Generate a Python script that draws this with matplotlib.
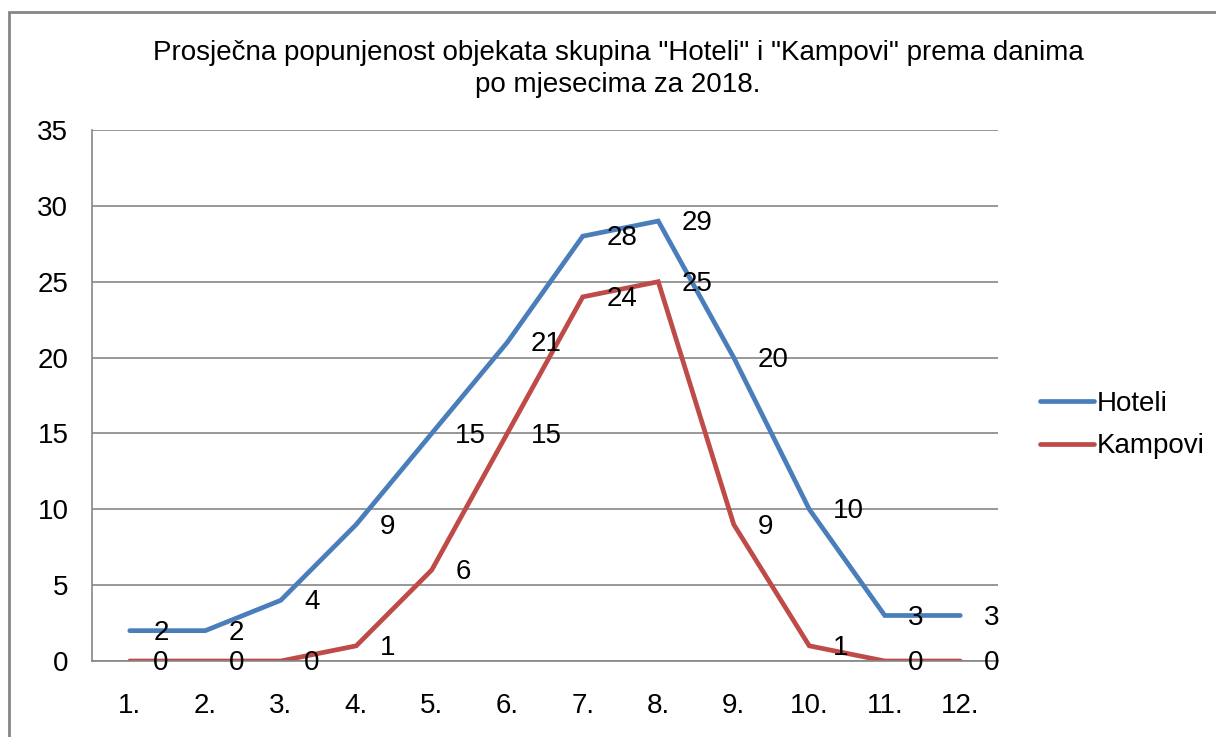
import matplotlib
matplotlib.use('Agg')
import matplotlib.pyplot as plt
from matplotlib.patches import Rectangle

# data
months = ['1.', '2.', '3.', '4.', '5.', '6.', '7.', '8.', '9.', '10.', '11.', '12.']
hoteli = [2, 2, 4, 9, 15, 21, 28, 29, 20, 10, 3, 3]
kampovi = [0, 0, 0, 1, 6, 15, 24, 25, 9, 1, 0, 0]
y_ticks = [0, 5, 10, 15, 20, 25, 30, 35]
title = 'Prosječna popunjenost objekata skupina "Hoteli" i "Kampovi" prema danima\npo mjesecima za 2018.'

plt.rcParams['font.family'] = ['Liberation Sans', 'DejaVu Sans']
fs = 20

fig = plt.figure(figsize=(12.16, 7.37), dpi=100)
ax = fig.add_axes([92 / 1216, 1 - 661 / 737, (998 - 92) / 1216, (661 - 130) / 737])

x = list(range(len(months)))
ax.plot(x, hoteli, color='#4A7EBB', lw=3.4, label='Hoteli',
        solid_joinstyle='miter', solid_capstyle='round')
ax.plot(x, kampovi, color='#BE4B48', lw=3.4, label='Kampovi',
        solid_joinstyle='miter', solid_capstyle='round')

for ys in [hoteli, kampovi]:
    for xi, yi in zip(x, ys):
        ax.annotate(str(yi), (xi, yi), xytext=(17, -1.5), textcoords='offset points',
                    ha='left', va='center', fontsize=fs, color='black')

ax.set_xlim(-0.5, len(months) - 0.5)
ax.set_ylim(0, 35)
ax.set_yticks(y_ticks)
ax.set_xticks(x)
ax.set_xticklabels(months)
ax.tick_params(axis='both', length=0, labelsize=fs, colors='black')
ax.tick_params(axis='y', pad=17)
ax.tick_params(axis='x', pad=23)
ax.yaxis.grid(True, color='#868686', lw=1.2)
ax.set_axisbelow(True)
for side in ['top', 'right']:
    ax.spines[side].set_visible(False)
for side in ['left', 'bottom']:
    ax.spines[side].set_color('#868686')
    ax.spines[side].set_linewidth(1.2)

fig.text(618 / 1216, 1 - 69 / 737, title, ha='center', va='center', fontsize=fs,
         linespacing=1.35)

leg = fig.legend(loc='center left', bbox_to_anchor=(1015 / 1216, 1 - 425 / 737),
                 frameon=False, fontsize=fs, handlelength=1.95, handletextpad=0.1,
                 labelspacing=0.6)

fig.patches.append(Rectangle((9 / 1216, -0.1), 1.2, 1 - 12 / 737 + 0.1,
                             transform=fig.transFigure, fill=False,
                             edgecolor='#868686', lw=2))

fig.savefig('out.png', dpi=100)
